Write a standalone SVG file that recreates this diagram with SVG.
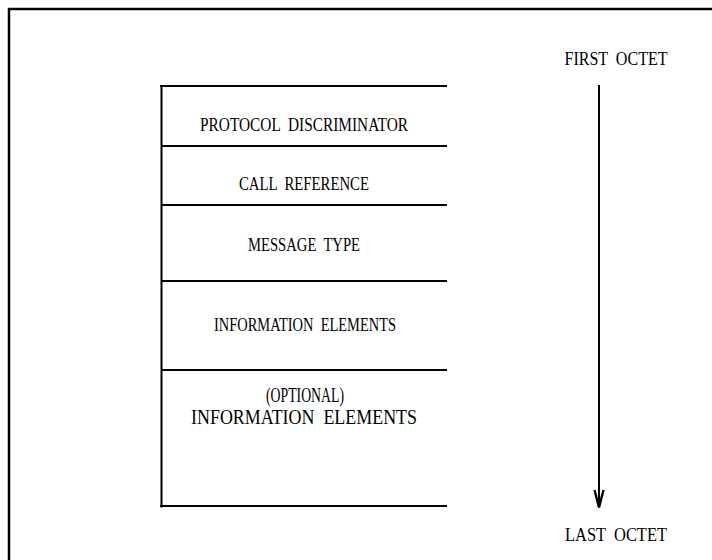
<svg xmlns="http://www.w3.org/2000/svg" width="712" height="560" viewBox="0 0 712 560">
<style>
.t{font-family:"Liberation Serif","Times New Roman",serif;font-size:19px;fill:#000;text-anchor:middle;white-space:pre}
.big{font-size:20px}
.div{stroke:#000;stroke-width:2;fill:none}
</style>
<rect width="712" height="560" fill="#fff"/>
<g id="frame">
<path d="M9,560 V9 H712" fill="none" stroke="#000" stroke-width="2.5"/>
</g>
<g id="message">
<line x1="160" y1="86" x2="447" y2="86" class="div" stroke-width="2.5"/>
<line x1="161" y1="146" x2="447" y2="146" class="div"/>
<line x1="161" y1="205" x2="447" y2="205" class="div"/>
<line x1="161" y1="281" x2="447" y2="281" class="div"/>
<line x1="161" y1="370" x2="447" y2="370" class="div"/>
<line x1="160" y1="506" x2="447" y2="506" class="div" stroke-width="3"/>
<line x1="161.5" y1="85" x2="161.5" y2="507.5" class="div" stroke-width="3.5"/>
</g>
<g id="pd"><text class="t" x="304" y="131" textLength="208" lengthAdjust="spacingAndGlyphs">PROTOCOL  DISCRIMINATOR</text></g>
<g id="cr"><text class="t" x="304" y="190" textLength="130" lengthAdjust="spacingAndGlyphs">CALL  REFERENCE</text></g>
<g id="mt"><text class="t" x="304" y="251" textLength="112" lengthAdjust="spacingAndGlyphs">MESSAGE  TYPE</text></g>
<g id="ie"><text class="t" x="305" y="331" textLength="182" lengthAdjust="spacingAndGlyphs">INFORMATION  ELEMENTS</text></g>
<g id="oie"><text class="t big" x="305" y="402" textLength="78" lengthAdjust="spacingAndGlyphs">(OPTIONAL)</text><text class="t big" x="304" y="424" textLength="226" lengthAdjust="spacingAndGlyphs">INFORMATION  ELEMENTS</text></g>
<g id="first"><text class="t" x="616" y="65" textLength="103" lengthAdjust="spacingAndGlyphs">FIRST  OCTET</text></g>
<g id="last"><text class="t" x="616" y="541" textLength="102" lengthAdjust="spacingAndGlyphs">LAST  OCTET</text></g>
<g id="connectors">
<line x1="599" y1="85" x2="599" y2="505" stroke="#000" stroke-width="2"/>
<path d="M594.5,490 L599,507.5 L603.5,490" fill="none" stroke="#000" stroke-width="2.4"/>
</g>
</svg>
